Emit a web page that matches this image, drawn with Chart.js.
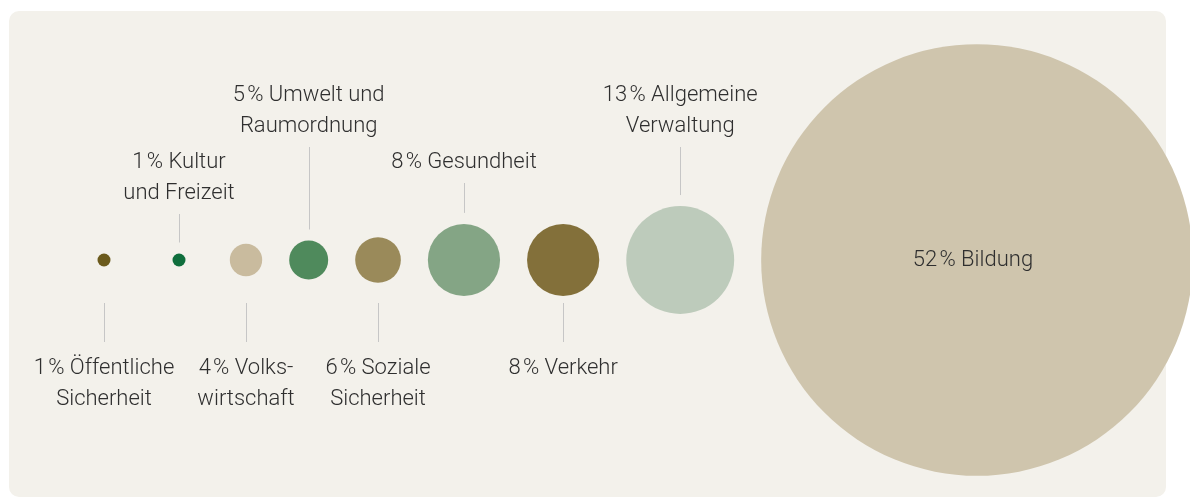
<!DOCTYPE html>
<html>
<head>
<meta charset="utf-8">
<script src="https://cdn.jsdelivr.net/npm/chart.js@4.4.1/dist/chart.umd.min.js"></script>
<style>
  html, body { margin: 0; padding: 0; background: #fff; }
  #wrap { width: 1190px; height: 499px; }
</style>
</head>
<body>
<div id="wrap"><canvas id="budget" width="1190" height="499"></canvas></div>
<script>
// Ausgaben nach Aufgabengebiet (Anteil in %)
const categories = ['Öffentliche Sicherheit', 'Kultur und Freizeit', 'Volkswirtschaft', 'Umwelt und Raumordnung',
  'Soziale Sicherheit', 'Gesundheit', 'Verkehr', 'Allgemeine Verwaltung', 'Bildung'];
const shares = [1.4, 1.4, 3.9, 4.7, 5.5, 8.7, 8.7, 13.0, 52.0];
const labelLines = [
  ['1\u200a% Öffentliche', 'Sicherheit'],
  ['1\u200a% Kultur', 'und Freizeit'],
  ['4\u200a% Volks-', 'wirtschaft'],
  ['5\u200a% Umwelt und', 'Raumordnung'],
  ['6\u200a% Soziale', 'Sicherheit'],
  ['8\u200a% Gesundheit'],
  ['8\u200a% Verkehr'],
  ['13\u200a% Allgemeine', 'Verwaltung'],
  ['52\u200a% Bildung']
];
const placement = ['below', 'above', 'below', 'aboveHigh', 'below', 'above', 'below', 'aboveHigh', 'inside'];
const colors = ['#6b5a1c', '#0f6e3c', '#c9bb9e', '#4f8a5c', '#9a8a5a', '#84a585', '#83703a', '#bdcbbb', '#cfc5ad'];

// bubble size: radius grows with the share, bubbles packed left to right
// (small bubbles get extra room so their labels do not collide)
const PX_PER_PCT = 4.15, MIN_R = 6.5, GAP = 27, START_X = 104;
const radii = shares.map(v => Math.max(MIN_R, v * PX_PER_PCT));
const xs = [];
radii.forEach((r, i) => {
  if (i === 0) { xs.push(START_X); return; }
  const minStep = 83 - 8 * i;
  xs.push(xs[i - 1] + Math.max(radii[i - 1] + r + GAP, minStep));
});

const FONT = '300 22px Roboto';
const TEXT = '#2f2f2f';
const LINE = '#c6c6c6';
const LH = 31;

const panel = {
  id: 'panel',
  beforeDraw(chart) {
    const ctx = chart.ctx;
    ctx.save();
    ctx.fillStyle = '#f3f1eb';
    ctx.beginPath();
    ctx.roundRect(9, 11, 1157, 486, 10);
    ctx.fill();
    ctx.restore();
  }
};

const labels = {
  id: 'labels',
  afterDatasetsDraw(chart) {
    const ctx = chart.ctx;
    const meta = chart.getDatasetMeta(0);
    ctx.save();
    ctx.font = FONT;
    ctx.textAlign = 'center';
    ctx.textBaseline = 'middle';
    ctx.lineWidth = 1;
    meta.data.forEach((pt, i) => {
      const x = pt.x, y = pt.y, r = pt.options.radius;
      const lines = labelLines[i];
      const lx = Math.round(x) + 0.5;
      ctx.fillStyle = TEXT;
      ctx.strokeStyle = LINE;
      if (placement[i] === 'inside') {
        ctx.fillText(lines[0], x - 4, y);
        return;
      }
      if (placement[i] === 'below') {
        ctx.beginPath();
        ctx.moveTo(lx, y + 43);
        ctx.lineTo(lx, y + 82);
        ctx.stroke();
        lines.forEach((t, k) => ctx.fillText(t, x, y + 108 + k * LH));
        return;
      }
      const top = placement[i] === 'aboveHigh' ? y - 165 : y - 98;
      lines.forEach((t, k) => ctx.fillText(t, x, top + k * LH));
      const lastY = top + (lines.length - 1) * LH;
      ctx.beginPath();
      ctx.moveTo(lx, lastY + 21);
      ctx.lineTo(lx, y - r - 11);
      ctx.stroke();
    });
    ctx.restore();
  }
};

new Chart(document.getElementById('budget'), {
  type: 'bubble',
  data: {
    datasets: [{
      label: 'Anteil',
      data: categories.map((c, i) => ({ x: xs[i], y: 0, r: radii[i] })),
      backgroundColor: colors,
      hoverBackgroundColor: colors,
      borderWidth: 0,
      hoverBorderWidth: 0,
      hoverRadius: 0,
      clip: false
    }]
  },
  options: {
    responsive: false,
    animation: false,
    events: [],
    layout: { autoPadding: false, padding: { top: 21, bottom: 0, left: 0, right: 0 } },
    scales: {
      x: { type: 'linear', min: 0, max: 1190, display: false },
      y: { type: 'linear', min: -1, max: 1, display: false }
    },
    plugins: {
      legend: { display: false },
      tooltip: { enabled: false }
    }
  },
  plugins: [panel, labels]
});
</script>
</body>
</html>
